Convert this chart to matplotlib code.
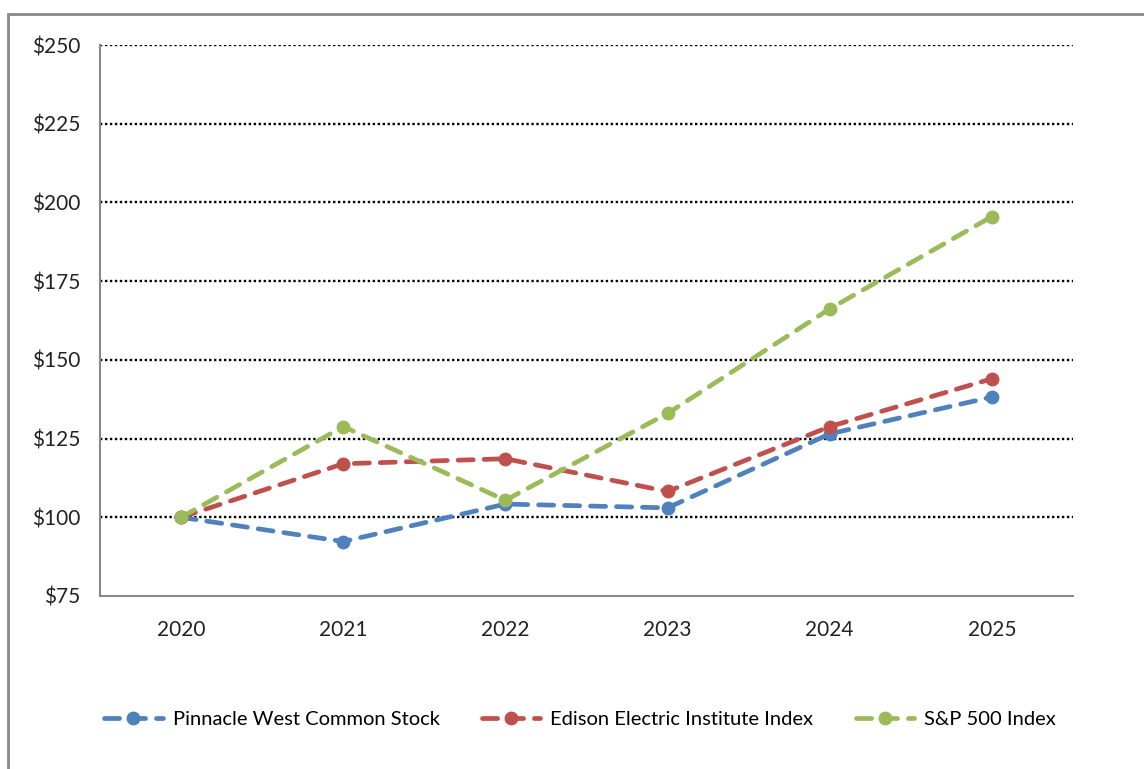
import matplotlib.pyplot as plt
from matplotlib.patches import Rectangle

# data
years = ['2020', '2021', '2022', '2023', '2024', '2025']
pinnacle = [100, 92.3, 104.2, 103.0, 126.5, 138.2]
eei = [100, 117.0, 118.6, 108.2, 128.8, 144.0]
sp500 = [100, 128.8, 105.4, 133.0, 166.2, 195.5]
y_ticks = [75, 100, 125, 150, 175, 200, 225, 250]

plt.rcParams['font.family'] = ['Lato', 'DejaVu Sans']

fig = plt.figure(figsize=(11.44, 7.69), dpi=100)
ax = fig.add_axes([100 / 1144, 1 - 596 / 769, 973 / 1144, 551 / 769])

xs = [i + 0.5 for i in range(len(years))]
series = [
    (pinnacle, '#4F81BD', 'Pinnacle West Common Stock'),
    (eei, '#C0504D', 'Edison Electric Institute Index'),
    (sp500, '#9BBB59', 'S&P 500 Index'),
]
for vals, col, name in series:
    ax.plot(xs, vals, color=col, lw=3.4, ls=(0, (3.2, 2.3)), marker='o', ms=9,
            dash_capstyle='round', label=name, zorder=3)

ax.set_xlim(0, len(years))
ax.set_ylim(75, 250)
ax.set_xticks(xs)
ax.set_xticklabels(years)
ax.set_yticks(y_ticks)
ax.set_yticklabels(['$%d' % v for v in y_ticks])
ax.tick_params(length=0, labelsize=15, colors='#222222')
ax.tick_params(axis='y', pad=14)
ax.tick_params(axis='x', pad=17)

for v in y_ticks[1:]:
    ax.axhline(v, color='black', lw=1.7, ls=(0, (1, 1.1)), zorder=1)

for s in ['top', 'right']:
    ax.spines[s].set_visible(False)
for s in ['left', 'bottom']:
    ax.spines[s].set_color('#888888')
    ax.spines[s].set_linewidth(1.5)

fig.legend(loc='center', bbox_to_anchor=(0.507, 1 - 719 / 769), ncol=3, frameon=False,
           fontsize=14.5, handlelength=2.9, columnspacing=2.1, handletextpad=0.5)

# outer chart border
fig.patches.append(Rectangle((8 / 1144, -0.05), 1.1, 1 - 14 / 769 + 0.05, transform=fig.transFigure,
                             fill=False, edgecolor='#888888', lw=2))

fig.savefig('out.png', dpi=100)
